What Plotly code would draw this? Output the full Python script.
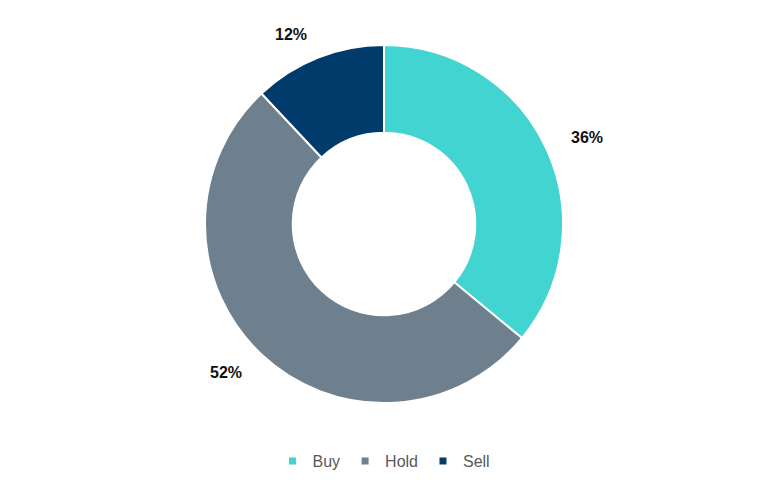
import math
import plotly.graph_objects as go

labels = ["Buy", "Hold", "Sell"]
values = [36, 52, 12]
colors = ["#42D4D0", "#6E7F8D", "#003B6C"]

W, H = 768, 484
M_T, M_B = 37, 89          # pie fills the plot area vertically
M_L, M_R = 0, 16
PLOT_H = H - M_T - M_B
PLOT_W = W - M_L - M_R
R = PLOT_H / 2             # outer radius in px
LABEL_R = 1.14 * R         # anchor radius for percentage labels
FONT = "Liberation Sans, Arial, sans-serif"

fig = go.Figure(go.Pie(
    labels=labels,
    values=values,
    hole=0.51,
    sort=False,
    direction="clockwise",
    rotation=0,
    marker=dict(colors=colors, line=dict(color="white", width=2)),
    textinfo="none",
    hoverinfo="label+percent",
    showlegend=False,
))

# legend entries with small square markers
for lab, col in zip(labels, colors):
    fig.add_trace(go.Scatter(
        x=[None], y=[None], mode="markers", name=lab,
        marker=dict(symbol="square", size=7, color=col),
        showlegend=True, hoverinfo="skip",
    ))

# percentage labels placed outside each slice, at the slice mid-angle
total = sum(values)
cum = 0
annotations = []
for lab, v in zip(labels, values):
    mid = (cum + v / 2) / total * 2 * math.pi
    cum += v
    dx = LABEL_R * math.sin(mid)
    dy = LABEL_R * math.cos(mid)
    annotations.append(dict(
        x=(PLOT_W / 2 + dx) / PLOT_W, y=(PLOT_H / 2 + dy) / PLOT_H,
        xref="paper", yref="paper",
        text=f"<b>{round(v / total * 100)}%</b>",
        showarrow=False,
        xanchor="left" if dx >= 0 else "right",
        yanchor="middle",
        font=dict(family=FONT, size=16, color="#111111"),
    ))

fig.update_layout(
    width=W, height=H,
    paper_bgcolor="white",
    plot_bgcolor="white",
    margin=dict(l=M_L, r=M_R, t=M_T, b=M_B, autoexpand=False),
    font=dict(family=FONT, size=16, color="#595959"),
    xaxis=dict(visible=False),
    yaxis=dict(visible=False),
    legend=dict(orientation="h", x=0.5, xanchor="center",
                y=-(453 - (H - M_B)) / PLOT_H, yanchor="middle",
                font=dict(size=16, color="#595959"), itemwidth=30),
    showlegend=True,
    annotations=annotations,
)

fig.write_html("out.html")
